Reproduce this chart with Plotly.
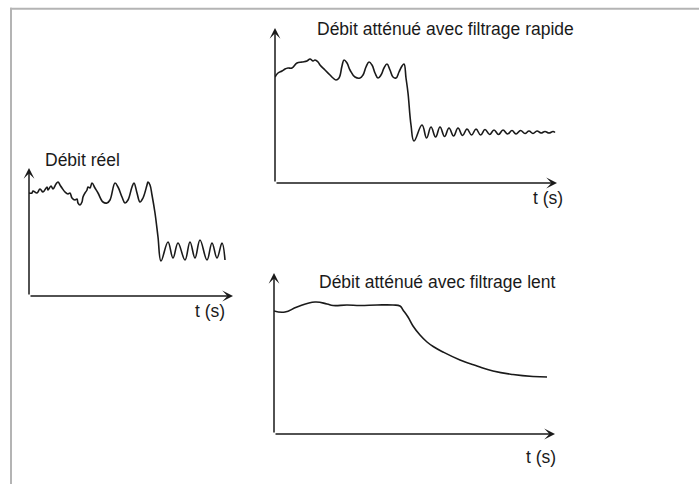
import plotly.graph_objects as go

W, H = 699, 484

# ---- Débit réel (measured flow) ----
t_reel = [0, 0.15, 0.2, 0.4, 0.55, 0.7, 0.9, 0.95, 1.1, 1.2, 1.35, 1.45, 1.55, 1.65,
          1.8, 1.95, 2.05, 2.15, 2.3, 2.4, 2.45, 2.55, 2.65, 2.7, 2.8, 2.9, 2.95,
          3.05, 3.15, 3.3, 3.45, 3.7, 3.9, 4.05, 4.3, 4.45, 4.65, 4.8, 4.95, 5.15,
          5.25, 5.4, 5.55, 5.7, 5.9, 5.95, 6.05, 6.15, 6.3, 6.45, 6.6,
          6.95, 7.2, 7.45, 7.8, 8.05, 8.3, 8.55, 8.9, 9.15, 9.4, 9.65, 9.8]
q_reel = [10.3, 10.3, 10.5, 10.3, 10.7, 10.4, 10.9, 10.6, 11.0, 10.7, 11.2, 11.4, 11.1, 10.8,
          10.4, 10.2, 10.3, 9.8, 9.6, 9.7, 9.3, 9.1, 9.4, 9.9, 10.3, 10.6, 10.9,
          10.8, 11.3, 10.8, 10.3, 9.4, 9.3, 9.6, 11.3, 10.9, 9.9, 9.3, 9.6, 10.9,
          11.3, 10.3, 9.4, 9.8, 11.1, 11.4, 11.1, 10.1, 8.3, 5.9, 3.5,
          5.4, 3.8, 5.3, 3.6, 5.4, 3.8, 5.6, 3.6, 5.3, 3.8, 5.3, 3.6]

# ---- Débit atténué avec filtrage rapide ----
t_rapide = [0, 0.15, 0.35, 0.5, 0.65, 0.85, 1.1, 1.35, 1.6, 1.75, 1.9, 2.0, 2.15, 2.25,
            2.5, 2.75, 2.9, 3.05, 3.2, 3.35, 3.45, 3.6, 3.75, 4.0, 4.25, 4.4, 4.55,
            4.7, 4.85, 5.0, 5.15, 5.3, 5.45, 5.6, 5.75, 5.9, 6.05, 6.2, 6.35, 6.45,
            6.55, 6.65, 6.8, 6.95,
            7.35, 7.58, 7.8, 8.03, 8.25, 8.48, 8.7, 8.93, 9.15, 9.38, 9.6, 9.83,
            10.05, 10.28, 10.5, 10.73, 10.95, 11.18, 11.4, 11.63, 11.85, 12.05,
            12.28, 12.5, 12.7, 12.9, 13.1, 13.3, 13.5, 13.7, 13.9, 14.0]
q_rapide = [10.6, 11.0, 11.2, 11.4, 11.5, 11.5, 12.0, 12.1, 12.2, 12.4, 12.2, 12.3, 12.1, 11.8,
            11.3, 10.8, 10.5, 10.3, 10.5, 11.7, 12.3, 12.0, 11.3, 10.6, 10.5, 10.8, 11.6,
            12.1, 11.8, 11.0, 10.5, 10.8, 11.5, 11.9, 11.3, 10.6, 10.5, 11.1, 11.7, 11.9,
            10.5, 9.0, 5.8, 4.2,
            5.8, 4.5, 5.6, 4.6, 5.6, 4.65, 5.5, 4.7, 5.5, 4.75, 5.4, 4.8,
            5.4, 4.8, 5.35, 4.85, 5.3, 4.85, 5.3, 4.9, 5.25, 4.9,
            5.25, 4.95, 5.2, 4.95, 5.2, 5.0, 5.15, 5.0, 5.15, 5.05]

# ---- Débit atténué avec filtrage lent ----
t_lent = [0, 0.55, 1.15, 2.05, 2.65, 2.95, 3.65, 4.3, 5.15, 5.95, 6.3, 6.45, 6.7, 6.95,
          7.3, 7.65, 8.0, 8.45, 9.3, 10.15, 10.95, 11.95, 12.95, 13.65]
q_lent = [12.3, 12.2, 12.7, 13.2, 13.0, 12.85, 12.9, 12.85, 12.9, 12.9, 12.8, 12.4, 11.7, 10.8,
          9.9, 9.2, 8.7, 8.2, 7.4, 6.8, 6.3, 5.95, 5.75, 5.7]

titles = ["Débit réel", "Débit atténué avec filtrage rapide", "Débit atténué avec filtrage lent"]
axis_label = "t (s)"

# Panel frames in pixels: (x origin, x arrow tip, y origin, y arrow tip) and axis tips in data units
panels = [
    dict(x0=29, x1=233, y0=296, y1=168, tmax=10.2, qmax=12.8),
    dict(x0=275, x1=557, y0=183, y1=28, tmax=14.1, qmax=15.5),
    dict(x0=274, x1=555, y0=434, y1=273, tmax=14.05, qmax=16.1),
]
series = [(t_reel, q_reel), (t_rapide, q_rapide), (t_lent, q_lent)]
smooth = [1.1, 1.2, 1.3]

fig = go.Figure()
layout = dict(
    width=W, height=H,
    margin=dict(l=0, r=0, t=0, b=0),
    paper_bgcolor="white", plot_bgcolor="white",
    showlegend=False,
    font=dict(family="Liberation Sans, Arial, sans-serif", color="#1a1a1a"),
)
annotations = []
ink = "#1a1a1a"

for i, (p, (tt, qq)) in enumerate(zip(panels, series), start=1):
    xa = "x" if i == 1 else f"x{i}"
    ya = "y" if i == 1 else f"y{i}"
    fig.add_trace(go.Scatter(
        x=tt, y=qq, mode="lines", xaxis=xa, yaxis=ya,
        line=dict(color=ink, width=1.6, shape="spline", smoothing=smooth[i - 1]),
        hoverinfo="skip", cliponaxis=False,
    ))
    ax_common = dict(showgrid=False, zeroline=False, showline=False,
                     showticklabels=False, ticks="", fixedrange=True)
    layout[f"xaxis{'' if i == 1 else i}"] = dict(
        domain=[p["x0"] / W, p["x1"] / W], range=[0, p["tmax"]],
        anchor=ya, **ax_common)
    layout[f"yaxis{'' if i == 1 else i}"] = dict(
        domain=[1 - p["y0"] / H, 1 - p["y1"] / H], range=[0, p["qmax"]],
        anchor=xa, **ax_common)
    # axis arrows
    for (tx, ty) in [(p["tmax"], 0), (0, p["qmax"])]:
        annotations.append(dict(
            x=tx, y=ty, ax=0, ay=0, xref=xa, yref=ya, axref=xa, ayref=ya,
            text="", showarrow=True, arrowhead=3, arrowsize=1.2, arrowwidth=1.5,
            arrowcolor=ink, standoff=0, startstandoff=0,
        ))

# panel titles and time labels
text_pos = [
    (titles[0], 43, 159.5, "left"),
    (titles[1], 315, 28.5, "left"),
    (titles[2], 317, 282, "left"),
    (axis_label, 227, 311, "right"),
    (axis_label, 565, 198, "right"),
    (axis_label, 558, 457, "right"),
]
for txt, px, py, anch in text_pos:
    annotations.append(dict(
        text=txt, x=px / W, y=1 - py / H, xref="paper", yref="paper",
        xanchor=anch, yanchor="middle", showarrow=False,
        font=dict(size=17.5, color=ink, family="Liberation Sans, Arial, sans-serif"),
    ))

layout["annotations"] = annotations
layout["shapes"] = [
    dict(type="line", xref="paper", yref="paper", x0=10 / W, x1=1, y0=1 - 8.8 / H, y1=1 - 8.8 / H,
         line=dict(color="#b4b4b4", width=2)),
    dict(type="line", xref="paper", yref="paper", x0=11 / W, x1=11 / W, y0=0, y1=1 - 7.8 / H,
         line=dict(color="#b4b4b4", width=2)),
]
fig.update_layout(**layout)
fig.write_html("out.html", config={"displayModeBar": False})
